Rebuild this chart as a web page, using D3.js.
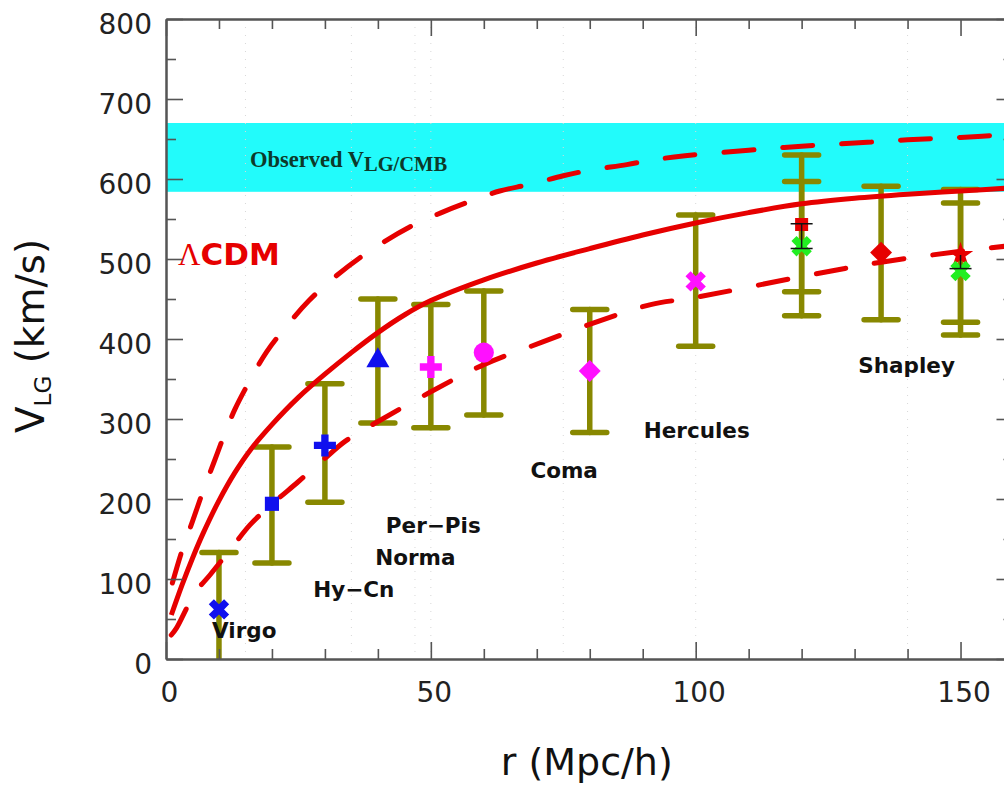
<!DOCTYPE html>
<html>
<head>
<meta charset="utf-8">
<script src="https://cdn.jsdelivr.net/npm/d3@7"></script>
<style>
  body { margin: 0; background: #fff; }
  svg { display: block; }
</style>
</head>
<body>
<div id="chart"></div>
<script>
// measured points (r in Mpc/h, V_LG in km/s)
const pointR    = [10, 20, 30, 40, 50, 60, 80, 100, 120, 120, 135, 150, 150];
const pointV    = [62, 194, 267, 373, 365, 383, 360, 472, 543, 516, 508, 505, 485];
const pointLo   = [-20, 120, 196, 295, 289, 305, 283, 391, 459, 429, 424, 421, 405];
const pointHi   = [133, 265, 344, 450, 443, 460, 437, 555, 630, 597, 591, 587, 570];
const pointKind = ["x", "square", "plus", "triangle", "plus", "circle", "diamond", "x", "square", "x", "diamond", "star", "x"];
const pointCol  = ["blue", "blue", "blue", "blue", "magenta", "magenta", "magenta", "magenta", "red", "green", "red", "red", "green"];

// small black error marks
const blackR  = [120, 150];
const blackLo = [513, 488];
const blackHi = [544, 505];

// model curves
const lcdmR = [1, 3, 5, 7, 10, 13, 16, 20, 25, 30, 35, 40, 45, 50, 60, 70, 80, 90, 100, 110, 120, 130, 140, 150, 160];
const lcdmV = [55, 92, 126, 157, 198, 233, 262, 293, 327, 356, 383, 408, 430, 448, 474, 495, 513, 530, 545, 558, 569, 576, 581, 585, 589];
const upperR = [1.2, 3, 5, 7, 9, 11, 13, 16, 19, 23, 27, 31.6, 38, 46, 52, 57, 63, 68.5, 75, 80, 87, 92, 98, 110, 120, 130, 140, 150, 160];
const upperV = [95, 135, 172, 210, 245, 280, 312, 350, 384, 418, 448, 476, 508, 540, 558, 571, 585, 593, 604, 611, 618, 624, 629, 636, 641, 645, 649, 652, 656];
const lowerR = [1, 2, 5.5, 8.3, 12.4, 15.9, 20.6, 24.7, 29.7, 33.8, 39, 50, 60, 71, 82, 91.5, 100, 120, 135, 153, 160];
const lowerV = [30, 39, 83, 105, 139, 168, 197, 220, 249, 272, 293, 334, 368, 396, 423, 443, 452, 478, 496, 512, 517];

// observed band
const bandLo = 584, bandHi = 670;

// cluster labels
const labelText = ["Virgo", "Hy\u2212Cn", "Norma", "Per\u2212Pis", "Coma", "Hercules", "Shapley"];
const labelR    = [8.7, 27.8, 39.5, 41.5, 68.8, 90.2, 130.7];
const labelV    = [26, 77, 118, 158, 226, 276, 358];

const gridR = [15, 35, 47, 50, 75, 100, 140];

const W = 1004, H = 786;
const colors = { blue: "#1010ee", magenta: "#ff10ff", red: "#e60000", green: "#22ee22" };

const svg = d3.select("#chart").append("svg")
  .attr("width", W).attr("height", H);

svg.append("rect").attr("width", W).attr("height", H).attr("fill", "#fff");

const x = d3.scaleLinear().domain([0, 160]).range([166, 1013.5]);
const y = d3.scaleLinear().domain([0, 800]).range([659, 19]);

svg.append("defs").append("clipPath").attr("id", "plot")
  .append("rect")
  .attr("x", x(0)).attr("y", y(800))
  .attr("width", x(160) - x(0)).attr("height", y(0) - y(800));

const plot = svg.append("g").attr("clip-path", "url(#plot)");

// observed band
plot.append("rect")
  .attr("x", x(0)).attr("y", y(bandHi))
  .attr("width", x(160) - x(0)).attr("height", y(bandLo) - y(bandHi))
  .attr("fill", "#22fbfb");

// faint dotted grid
plot.selectAll("line.grid").data(gridR).enter().append("line")
  .attr("class", "grid")
  .attr("x1", d => x(d)).attr("x2", d => x(d))
  .attr("y1", y(800)).attr("y2", y(0))
  .attr("stroke", "#d8d8d8").attr("stroke-width", 1)
  .attr("stroke-dasharray", "1,7");

const bandText = svg.append("text")
  .attr("x", 250).attr("y", 167)
  .attr("font-family", "Liberation Serif, serif")
  .attr("font-weight", "bold")
  .attr("font-size", 22.5)
  .attr("fill", "#0c3a2a");
bandText.append("tspan").text("Observed V");
bandText.append("tspan").attr("dy", 4).attr("font-size", 20.5).text("LG/CMB");

// error bars
const bars = plot.selectAll("g.bar").data(pointR.map((r, i) => ({ r, lo: pointLo[i], hi: pointHi[i] })))
  .enter().append("g").attr("class", "bar")
  .attr("stroke", "#888800").attr("stroke-width", 5.5).attr("stroke-linecap", "round");
bars.append("line")
  .attr("x1", d => x(d.r)).attr("x2", d => x(d.r))
  .attr("y1", d => y(d.lo)).attr("y2", d => y(d.hi));
bars.append("line")
  .attr("x1", d => x(d.r) - 17).attr("x2", d => x(d.r) + 17)
  .attr("y1", d => y(d.hi)).attr("y2", d => y(d.hi));
bars.append("line")
  .attr("x1", d => x(d.r) - 17).attr("x2", d => x(d.r) + 17)
  .attr("y1", d => y(d.lo)).attr("y2", d => y(d.lo));

// curves
const line = d3.line().x(d => x(d[0])).y(d => y(d[1])).curve(d3.curveCatmullRom.alpha(0.5));
const curveStyle = g => g.attr("fill", "none").attr("stroke", "#e60000").attr("stroke-width", 5);

plot.append("path").datum(lcdmR.map((r, i) => [r, lcdmV[i]]))
  .attr("d", line).call(curveStyle);
plot.append("path").datum(upperR.map((r, i) => [r, upperV[i]]))
  .attr("d", line).call(curveStyle)
  .attr("stroke-dasharray", "30,29").attr("stroke-linecap", "round");
plot.append("path").datum(lowerR.map((r, i) => [r, lowerV[i]]))
  .attr("d", line).call(curveStyle)
  .attr("stroke-dasharray", "30,29").attr("stroke-linecap", "round");

// markers
const shapes = {
  x:        { type: d3.symbolCross,    size: 260, rot: 45 },
  plus:     { type: d3.symbolCross,    size: 270, rot: 0 },
  square:   { type: d3.symbolSquare,   size: 200, rot: 0 },
  triangle: { type: d3.symbolTriangle, size: 230, rot: 0 },
  circle:   { type: d3.symbolCircle,   size: 320, rot: 0 },
  diamond:  { type: d3.symbolSquare,   size: 240, rot: 45 },
  star:     { type: d3.symbolStar,     size: 200, rot: 0 }
};
plot.selectAll("path.mark").data(pointR.map((r, i) => ({ r, v: pointV[i], k: pointKind[i], c: pointCol[i] })))
  .enter().append("path").attr("class", "mark")
  .attr("d", d => d3.symbol().type(shapes[d.k].type).size(d.k === "square" && d.c === "red" ? 170 : shapes[d.k].size)())
  .attr("transform", d => `translate(${x(d.r)},${y(d.v)}) rotate(${shapes[d.k].rot})`)
  .attr("fill", d => colors[d.c]);

// small black error marks
const blk = plot.selectAll("g.blk").data(blackR.map((r, i) => ({ r, lo: blackLo[i], hi: blackHi[i] })))
  .enter().append("g").attr("class", "blk").attr("stroke", "#111").attr("stroke-width", 1.5);
blk.append("line").attr("x1", d => x(d.r)).attr("x2", d => x(d.r)).attr("y1", d => y(d.lo)).attr("y2", d => y(d.hi));
blk.append("line").attr("x1", d => x(d.r) - 11).attr("x2", d => x(d.r) + 11).attr("y1", d => y(d.lo)).attr("y2", d => y(d.lo));
blk.filter((d, i) => i === 0).append("line").attr("x1", d => x(d.r) - 11).attr("x2", d => x(d.r) + 11).attr("y1", d => y(d.hi)).attr("y2", d => y(d.hi));

// cluster labels
svg.selectAll("text.lab").data(labelText).enter().append("text")
  .attr("class", "lab")
  .attr("x", (d, i) => x(labelR[i])).attr("y", (d, i) => y(labelV[i]))
  .attr("font-family", "DejaVu Sans, sans-serif").attr("font-weight", "bold")
  .attr("font-size", 21.5).attr("fill", "#111")
  .text(d => d);

// Lambda CDM label
const lab = svg.append("text").attr("x", 178).attr("y", 265).attr("fill", "#e60000");
lab.append("tspan").attr("font-family", "Liberation Serif, serif").attr("font-size", 31).text("\u039B");
lab.append("tspan").attr("font-family", "DejaVu Sans, sans-serif").attr("font-weight", "bold").attr("font-size", 31).text("CDM");

// axes
const axisColor = "#555";
function styleAxis(g) {
  g.select(".domain").attr("stroke", axisColor).attr("stroke-width", 2);
  g.selectAll(".tick line").attr("stroke", axisColor).attr("stroke-width", 1.6);
  g.selectAll(".tick text").attr("font-family", "DejaVu Sans, sans-serif").attr("font-size", 28).attr("fill", "#222");
}
const xMajor = [0, 50, 100, 150];
const xMinor = d3.range(10, 160, 10).filter(v => v % 50 !== 0);
const yMajor = d3.range(0, 801, 100);
const yMinor = d3.range(50, 800, 100);

svg.append("g").attr("transform", `translate(0,${y(0)})`)
  .call(d3.axisBottom(x).tickValues(xMajor).tickSize(-17).tickSizeOuter(0).tickPadding(23))
  .call(styleAxis)
  .selectAll(".tick text").attr("dx", 3);
svg.append("g").attr("transform", `translate(0,${y(0)})`)
  .call(d3.axisBottom(x).tickValues(xMinor).tickSize(-10).tickSizeOuter(0).tickFormat(""))
  .call(styleAxis);
svg.append("g").attr("transform", `translate(0,${y(800)})`)
  .call(d3.axisTop(x).tickValues(xMajor).tickSize(-17).tickSizeOuter(0).tickFormat(""))
  .call(styleAxis);
svg.append("g").attr("transform", `translate(0,${y(800)})`)
  .call(d3.axisTop(x).tickValues(xMinor).tickSize(-10).tickSizeOuter(0).tickFormat(""))
  .call(styleAxis);

svg.append("g").attr("transform", `translate(${x(0)},0)`)
  .call(d3.axisLeft(y).tickValues(yMajor).tickSize(-17).tickSizeOuter(0).tickPadding(14))
  .call(styleAxis)
  .selectAll(".tick text").attr("dy", "0.5em");
svg.append("g").attr("transform", `translate(${x(0)},0)`)
  .call(d3.axisLeft(y).tickValues(yMinor).tickSize(-10).tickSizeOuter(0).tickFormat(""))
  .call(styleAxis);
svg.append("g").attr("transform", `translate(${x(160)},0)`)
  .call(d3.axisRight(y).tickValues(yMajor).tickSize(-17).tickSizeOuter(0).tickFormat(""))
  .call(styleAxis);
svg.append("g").attr("transform", `translate(${x(160)},0)`)
  .call(d3.axisRight(y).tickValues(yMinor).tickSize(-10).tickSizeOuter(0).tickFormat(""))
  .call(styleAxis);

// axis titles
svg.append("text")
  .attr("x", (x(0) + x(160)) / 2 - 3).attr("y", 775)
  .attr("text-anchor", "middle")
  .attr("font-family", "DejaVu Sans, sans-serif").attr("font-size", 38).attr("fill", "#111")
  .text("r (Mpc/h)");

const yt = svg.append("text")
  .attr("transform", "translate(44,336) rotate(-90)")
  .attr("text-anchor", "middle")
  .attr("font-family", "DejaVu Sans, sans-serif").attr("font-size", 39).attr("fill", "#111");
yt.append("tspan").text("V");
yt.append("tspan").attr("font-size", 23).attr("dy", 7).text("LG");
yt.append("tspan").attr("dy", -7).text(" (km/s)");
</script>
</body>
</html>
